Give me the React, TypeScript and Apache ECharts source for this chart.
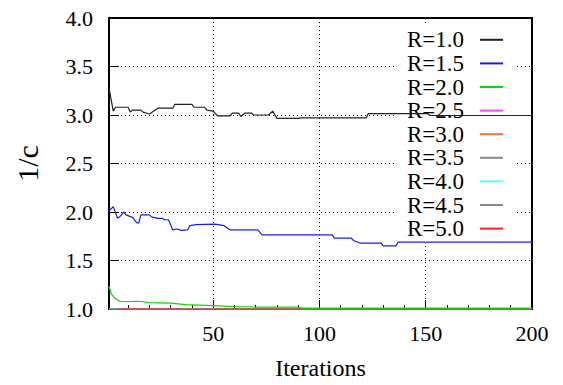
import React, { useEffect, useRef } from "react";
import * as echarts from "echarts";

// R = 1.0 (black)
const r10Iter = [1, 3, 4, 10, 11, 12, 16, 17, 20, 24, 31, 32, 40, 41, 46, 47, 50, 52, 58, 59, 62, 63, 65, 68, 69, 76, 78, 80, 90, 91, 122, 123, 151, 152, 200];
const r10Val = [3.28, 3.04, 3.08, 3.08, 3.03, 3.05, 3.05, 3.03, 3.01, 3.07, 3.07, 3.11, 3.11, 3.08, 3.08, 3.05, 3.04, 2.99, 2.99, 3.02, 3.02, 2.985, 3.02, 3.02, 3.0, 3.0, 3.04, 2.965, 2.965, 2.97, 2.97, 3.015, 3.015, 2.995, 2.995];
// R = 1.5 (blue)
const r15Iter = [1, 3, 5, 6, 8, 9, 12, 14, 15, 16, 20, 21, 24, 26, 27, 29, 31, 33, 35, 38, 39, 42, 51, 55, 58, 71, 73, 106, 107, 115, 116, 119, 129, 130, 136, 137, 200];
const r15Val = [2.01, 2.055, 1.935, 1.95, 2.0, 1.97, 1.945, 1.89, 1.885, 1.97, 1.97, 1.95, 1.935, 1.935, 1.92, 1.92, 1.815, 1.825, 1.81, 1.815, 1.86, 1.87, 1.875, 1.86, 1.815, 1.815, 1.765, 1.765, 1.73, 1.73, 1.706, 1.68, 1.68, 1.65, 1.65, 1.69, 1.69];
// R = 2.0 (green)
const r20Iter = [1, 2, 4, 6, 10, 14, 17, 20, 30, 37, 50, 60, 71, 90, 92, 200];
const r20Val = [1.235, 1.155, 1.105, 1.08, 1.075, 1.08, 1.075, 1.065, 1.06, 1.045, 1.035, 1.025, 1.02, 1.02, 1.01, 1.01];
// R = 2.5 .. 5.0 (all settle at 1.0)
const r25Iter = [1, 200];
const r25Val = [1.0, 1.0];
const r30Iter = [1, 200];
const r30Val = [1.0, 1.0];
const r35Iter = [1, 200];
const r35Val = [1.0, 1.0];
const r40Iter = [1, 200];
const r40Val = [1.0, 1.0];
const r45Iter = [1, 200];
const r45Val = [1.0, 1.0];
const r50Iter = [5, 200];
const r50Val = [1.0, 1.0];

const seriesNames = ["R=1.0", "R=1.5", "R=2.0", "R=2.5", "R=3.0", "R=3.5", "R=4.0", "R=4.5", "R=5.0"];
const seriesColors = ["#222222", "#1a1aff", "#00e000", "#ff44ff", "#ff6a3a", "#888888", "#55ffff", "#888888", "#ff2020"];
const seriesIters = [r10Iter, r15Iter, r20Iter, r25Iter, r30Iter, r35Iter, r40Iter, r45Iter, r50Iter];
const seriesVals = [r10Val, r15Val, r20Val, r25Val, r30Val, r35Val, r40Val, r45Val, r50Val];

const FONT = "Liberation Serif";

export default function App() {
  const ref = useRef<HTMLDivElement>(null);
  useEffect(() => {
    if (!ref.current) return;
    const chart = echarts.init(ref.current, undefined, { renderer: "svg" });
    const series = seriesNames.map((name, i) => ({
      name,
      type: "line" as const,
      data: seriesIters[i].map((x, j) => [x, seriesVals[i][j]]),
      showSymbol: false,
      symbol: "none",
      z: i === 2 ? 6 : 5,
      lineStyle: { color: seriesColors[i], width: 1.2 },
      itemStyle: { color: seriesColors[i] },
    }));
    chart.setOption({
      animation: false,
      backgroundColor: "#ffffff",
      textStyle: { fontFamily: FONT },
      grid: {
        left: 109, right: 31, top: 18, bottom: 74,
        show: true, borderColor: "#000", borderWidth: 2, backgroundColor: "transparent",
      },
      legend: {
        orient: "vertical", right: 46, top: 23, align: "right", icon: "rect",
        itemWidth: 23, itemHeight: 2, itemGap: 0, padding: [5, 14, 5, 12],
        backgroundColor: "#ffffff",
        textStyle: { fontFamily: FONT, fontSize: 23, color: "#000", lineHeight: 23.6, padding: [0, 11, 0, 0] },
        data: seriesNames,
      },
      xAxis: {
        type: "value", min: 1, max: 200, splitNumber: 4,
        name: "Iterations", nameLocation: "middle", nameGap: 47,
        nameTextStyle: { fontFamily: FONT, fontSize: 24, color: "#000" },
        axisLine: { show: false },
        axisTick: { show: true, inside: true, length: 9, lineStyle: { color: "#000", width: 1 } },
        minorTick: { show: true, splitNumber: 5, length: 4, lineStyle: { color: "#000", width: 1 } },
        axisLabel: { showMinLabel: false, margin: 13, fontFamily: FONT, fontSize: 22, color: "#000" },
        splitLine: { show: true, lineStyle: { color: "#000", width: 1, type: [1, 3] } },
      },
      yAxis: {
        type: "value", min: 1, max: 4, interval: 0.5,
        name: "1/c", nameLocation: "middle", nameRotate: 90, nameGap: 67,
        nameTextStyle: { fontFamily: FONT, fontSize: 30, color: "#000" },
        axisLine: { show: false },
        axisTick: { show: true, inside: true, length: 10, lineStyle: { color: "#000", width: 1 } },
        axisLabel: { margin: 16, fontFamily: FONT, fontSize: 22, color: "#000", formatter: (v: number) => v.toFixed(1) },
        splitLine: { show: true, lineStyle: { color: "#000", width: 1, type: [1, 3] } },
      },
      series,
    });
    return () => chart.dispose();
  }, []);
  return <div ref={ref} style={{ position: "absolute", left: 0, top: 0, width: 563, height: 385 }} />;
}
